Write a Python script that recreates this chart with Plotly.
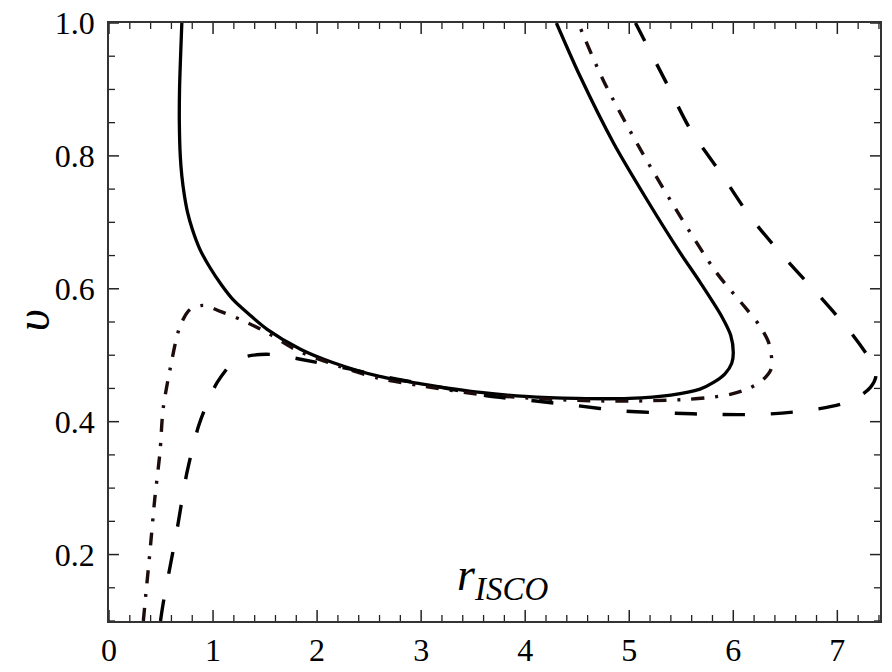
import plotly.graph_objects as go

# Solid curve
solid_r = [0.70, 0.688, 0.678, 0.676, 0.685, 0.70, 0.725, 0.755, 0.80, 0.875, 0.97, 1.08, 1.19,
           1.35, 1.52, 1.84, 2.15, 2.6, 3.0, 3.57, 4.0, 4.5, 5.0, 5.4, 5.68, 5.81, 5.92, 5.985,
           6.0, 5.975, 5.89, 5.68, 5.49, 5.17, 4.85, 4.53, 4.30]
solid_v = [1.0, 0.95, 0.90, 0.85, 0.80, 0.77, 0.74, 0.715, 0.69, 0.659, 0.632, 0.606, 0.584,
           0.561, 0.539, 0.509, 0.489, 0.468, 0.457, 0.444, 0.438, 0.435, 0.435, 0.440, 0.449,
           0.459, 0.472, 0.488, 0.504, 0.530, 0.558, 0.610, 0.654, 0.734, 0.819, 0.919, 1.0]

# Dash-dot curve
dashdot_r = [0.33, 0.36, 0.39, 0.44, 0.49, 0.52, 0.587, 0.683, 0.78, 0.907, 1.07, 1.26, 1.52,
             1.81, 2.2, 2.6, 3.0, 3.57, 4.0, 4.5, 5.0, 5.5, 5.75, 5.97, 6.15, 6.29, 6.36, 6.37,
             6.34, 6.25, 6.13, 5.84, 5.49, 5.11, 4.75, 4.51]
dashdot_v = [0.10, 0.15, 0.198, 0.284, 0.354, 0.419, 0.479, 0.544, 0.569, 0.575, 0.566, 0.554,
             0.534, 0.507, 0.484, 0.465, 0.454, 0.441, 0.436, 0.432, 0.431, 0.433, 0.436, 0.441,
             0.450, 0.464, 0.478, 0.492, 0.519, 0.545, 0.569, 0.624, 0.709, 0.809, 0.914, 1.0]

# Dashed curve
dashed_r = [0.495, 0.52, 0.65, 0.75, 0.86, 0.95, 1.04, 1.19, 1.32, 1.45, 1.58, 1.84, 2.32, 2.77,
            3.18, 3.63, 4.05, 4.5, 4.94, 5.37, 5.84, 6.26, 6.67, 7.03, 7.22, 7.32, 7.37, 7.35,
            7.13, 6.80, 6.48, 6.16, 5.88, 5.59, 5.36, 5.06]
dashed_v = [0.10, 0.126, 0.234, 0.324, 0.393, 0.43, 0.459, 0.489, 0.498, 0.501, 0.501, 0.494,
            0.479, 0.464, 0.452, 0.439, 0.432, 0.424, 0.416, 0.413, 0.411, 0.411, 0.416, 0.426,
            0.439, 0.452, 0.468, 0.484, 0.534, 0.594, 0.649, 0.709, 0.774, 0.839, 0.909, 1.0]

x_range = [0, 7.41]
y_range = [0.1, 1.0]
x_ticks = [0, 1, 2, 3, 4, 5, 6, 7]
x_minor = [round(0.2 * i, 1) for i in range(38) if i % 5 != 0]
y_ticks = [0.2, 0.4, 0.6, 0.8, 1.0]
y_tick_text = ["0.2", "0.4", "0.6", "0.8", "1.0"]
y_minor = [round(0.05 * i, 2) for i in range(2, 20) if i % 4 != 0]

TICK_COLOR = "#222222"
LINE_COLOR = "#333333"
tickfont = dict(family="Liberation Serif", size=32, color="black")

fig = go.Figure()
fig.add_trace(go.Scatter(x=solid_r, y=solid_v, mode="lines",
                         line=dict(color="black", width=3.3, shape="spline", smoothing=0.8)))
fig.add_trace(go.Scatter(x=dashdot_r, y=dashdot_v, mode="lines",
                         line=dict(color="#1c0c0c", width=3.4, shape="spline", smoothing=0.8,
                                   dash="13px,11px,3px,11px")))
fig.add_trace(go.Scatter(x=dashed_r, y=dashed_v, mode="lines",
                         line=dict(color="black", width=3.4, shape="spline", smoothing=0.8,
                                   dash="22px,26px")))

# inward tick marks on all four sides, placed through the axes' own scales
def add_xtick(xv, length, width):
    for anchor, sign in [(y_range[0], 1), (y_range[1], -1)]:
        fig.add_shape(type="line", xref="x", yref="y", ysizemode="pixel", yanchor=anchor,
                      x0=xv, x1=xv, y0=0, y1=sign * length, layer="above",
                      line=dict(color=TICK_COLOR, width=width))

def add_ytick(yv, length, width):
    for anchor, sign in [(x_range[0], 1), (x_range[1], -1)]:
        fig.add_shape(type="line", xref="x", yref="y", xsizemode="pixel", xanchor=anchor,
                      y0=yv, y1=yv, x0=0, x1=sign * length, layer="above",
                      line=dict(color=TICK_COLOR, width=width))

for t in x_ticks:
    add_xtick(t, 11, 1.5)
for t in x_minor:
    add_xtick(t, 6, 1.3)
for t in y_ticks:
    add_ytick(t, 10, 1.5)
for t in y_minor:
    add_ytick(t, 6, 1.3)

fig.update_layout(
    xaxis=dict(range=x_range, tickmode="array", tickvals=x_ticks, ticks="",
               showline=True, linecolor=LINE_COLOR, linewidth=1.5, mirror=True,
               showgrid=False, zeroline=False, automargin=False, tickfont=tickfont),
    yaxis=dict(range=y_range, tickmode="array", tickvals=y_ticks, ticktext=y_tick_text,
               ticks="", showline=True, linecolor=LINE_COLOR, linewidth=1.5, mirror=True,
               showgrid=False, zeroline=False, automargin=False, tickfont=tickfont,
               ticklabelstandoff=6),
)

fig.add_annotation(x=0.511, y=0.0714, xref="paper", yref="paper", showarrow=False,
                   xanchor="center", yanchor="middle",
                   text="<i>r</i><sub><span style='font-size:33px'><i>ISCO</i></span></sub>",
                   font=dict(family="Liberation Serif", size=46, color="black"))
fig.add_annotation(x=-0.0999, y=0.503, xref="paper", yref="paper", showarrow=False,
                   xanchor="center", yanchor="middle",
                   text="<i>υ</i>", textangle=-90,
                   font=dict(family="Liberation Serif", size=48, color="black"))

fig.update_layout(width=892, height=672, showlegend=False,
                  margin=dict(l=109, r=12, t=23, b=51),
                  paper_bgcolor="white", plot_bgcolor="white")

fig.write_html("out.html")
